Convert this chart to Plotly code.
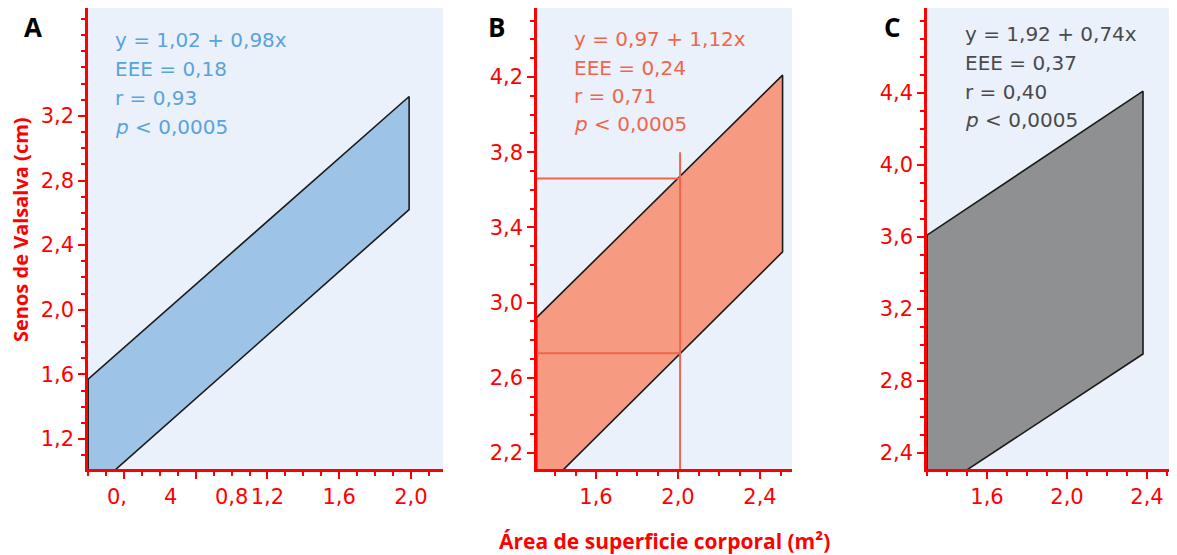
import plotly.graph_objects as go

W, H = 1177, 555
OFF = 8  # page body margin
FONT = "DejaVu Sans"
TFONT = "Open Sans"
RED = "#ff0000"

# ---- data ----
# Panel A
A_band_x = [0.2, 1.99]
A_band_upper = [1.57, 3.32]
A_band_lower = [0.86, 2.62]
A_stats = ["y = 1,02 + 0,98x", "EEE = 0,18", "r = 0,93", "<i>p</i> < 0,0005"]
A_yticks = [1.2, 1.6, 2.0, 2.4, 2.8, 3.2]
A_ytext = ["1,2", "1,6", "2,0", "2,4", "2,8", "3,2"]
A_xticks = [0.4, 0.8, 1.2, 1.6, 2.0]
A_xtext = ["", "", "1,2", "1,6", "2,0"]
A_xfrag_text = ["0,", "4", "0,8"]
A_xfrag_pos = [0.36, 0.658, 1.0]

# Panel B
B_band_x = [1.31, 2.51]
B_band_upper = [2.92, 4.21]
B_band_lower = [1.97, 3.27]
B_stats = ["y = 0,97 + 1,12x", "EEE = 0,24", "r = 0,71", "<i>p</i> < 0,0005"]
B_cross_x = 2.01
B_cross_y = [2.73, 3.66]
B_cross_top = 3.8
B_yticks = [2.2, 2.6, 3.0, 3.4, 3.8, 4.2]
B_ytext = ["2,2", "2,6", "3,0", "3,4", "3,8", "4,2"]
B_xticks = [1.6, 2.0, 2.4]
B_xtext = ["1,6", "2,0", "2,4"]

# Panel C
C_band_x = [1.3, 2.38]
C_band_upper = [3.61, 4.41]
C_band_lower = [2.16, 2.95]
C_stats = ["y = 1,92 + 0,74x", "EEE = 0,37", "r = 0,40", "<i>p</i> < 0,0005"]
C_yticks = [2.4, 2.8, 3.2, 3.6, 4.0, 4.4]
C_ytext = ["2,4", "2,8", "3,2", "3,6", "4,0", "4,4"]
C_xticks = [1.6, 2.0, 2.4]
C_xtext = ["1,6", "2,0", "2,4"]

panel_letters = ["A", "B", "C"]
y_title = "Senos de Valsalva (cm)"
x_title = "Área de superficie corporal (m²)"

# ---- layout helpers (target pixel -> paper fraction) ----
def px(x):
    return (x - OFF) / W

def py(y):
    return 1 - (y - OFF) / H

y_dom = [py(469), py(8)]
panels = [
    dict(dom=[px(88), px(443)], xr=[0.1993, 2.179], yr=[1.014, 3.868],
         bx=A_band_x, bu=A_band_upper, bl=A_band_lower, fill="#9dc3e6",
         stats=A_stats, scol="#5aa3dc", sx=113, sy=[40.5, 69.5, 98, 126.5],
         yt=A_yticks, ytt=A_ytext, xt=A_xticks, xtt=A_xtext, lx=33),
    dict(dom=[px(537), px(792)], xr=[1.312, 2.556], yr=[2.115, 4.567],
         bx=B_band_x, bu=B_band_upper, bl=B_band_lower, fill="#f69b81",
         stats=B_stats, scol="#f0654b", sx=572, sy=[39.5, 67.5, 96, 124.5],
         yt=B_yticks, ytt=B_ytext, xt=B_xticks, xtt=B_xtext, lx=497),
    dict(dom=[px(927), min(1.0, px(1185))], xr=[1.3, 2.59], yr=[2.311, 4.872],
         bx=C_band_x, bu=C_band_upper, bl=C_band_lower, fill="#8f9091",
         stats=C_stats, scol="#4a4a4a", sx=963, sy=[34, 63, 91.5, 120],
         yt=C_yticks, ytt=C_ytext, xt=C_xticks, xtt=C_xtext, lx=892),
]

fig = go.Figure()
layout = dict(
    width=W, height=H, margin=dict(l=0, r=0, t=0, b=0),
    paper_bgcolor="white", plot_bgcolor="#eaf1fa", showlegend=False,
    font=dict(family=FONT, color=RED),
)
annotations = []
tickfont = dict(family=FONT, size=21, color=RED)

for i, p in enumerate(panels):
    n = "" if i == 0 else str(i + 1)
    xa, ya = "x" + n, "y" + n
    bx, bu, bl = p["bx"], p["bu"], p["bl"]
    fig.add_trace(go.Scatter(
        x=[bx[0], bx[1], bx[1], bx[0], bx[0]],
        y=[bl[0], bl[1], bu[1], bu[0], bl[0]],
        mode="lines", fill="toself", fillcolor=p["fill"],
        line=dict(color="#1a1a1a", width=1.6), xaxis=xa, yaxis=ya,
        hoverinfo="skip"))
    axcommon = dict(showline=True, linecolor=RED, linewidth=2.5, showgrid=False,
                    zeroline=False, ticks="outside", ticklen=7, tickwidth=2,
                    tickcolor=RED, tickfont=tickfont,
                    minor=dict(dtick=0.1, tick0=0, ticks="outside", ticklen=4,
                               tickwidth=2, tickcolor=RED, showgrid=False))
    layout["xaxis" + n] = dict(axcommon, domain=p["dom"], range=p["xr"],
                               anchor=ya, tickmode="array",
                               tickvals=p["xt"], ticktext=p["xtt"])
    layout["yaxis" + n] = dict(axcommon, domain=y_dom, range=p["yr"],
                               anchor=xa, tickmode="array",
                               tickvals=p["yt"], ticktext=p["ytt"])
    for line, yy in zip(p["stats"], p["sy"]):
        annotations.append(dict(
            xref="paper", yref="paper", x=px(p["sx"]), y=py(yy),
            xanchor="left", yanchor="middle", text=line, showarrow=False,
            font=dict(family=FONT, size=20, color=p["scol"])))
    annotations.append(dict(
        xref="paper", yref="paper", x=px(p["lx"]), y=py(8),
        xanchor="center", yanchor="top", text="<b>%s</b>" % panel_letters[i],
        showarrow=False, borderpad=0,
        font=dict(family=TFONT, size=26, color="black")))

# Panel B crosshair guide lines
gcol = "#f0654b"
fig.add_trace(go.Scatter(x=[B_cross_x, B_cross_x], y=[1.5, B_cross_top],
                         mode="lines", line=dict(color=gcol, width=2),
                         xaxis="x2", yaxis="y2", hoverinfo="skip"))
for yv in B_cross_y:
    fig.add_trace(go.Scatter(x=[1.0, B_cross_x], y=[yv, yv],
                             mode="lines", line=dict(color=gcol, width=2),
                             xaxis="x2", yaxis="y2", hoverinfo="skip"))

# Panel A malformed x tick label fragments
for t, xv in zip(A_xfrag_text, A_xfrag_pos):
    annotations.append(dict(
        xref="x", yref="paper", x=xv, y=py(497), xanchor="center",
        yanchor="middle", text=t, showarrow=False, font=tickfont))

# axis titles
annotations.append(dict(
    xref="paper", yref="paper", x=px(20), y=py(230), textangle=-90,
    xanchor="center", yanchor="middle", text="<b>%s</b>" % y_title,
    showarrow=False, font=dict(family=TFONT, size=20, color=RED)))
annotations.append(dict(
    xref="paper", yref="paper", x=px(664), y=py(541),
    xanchor="center", yanchor="middle", text="<b>%s</b>" % x_title,
    showarrow=False, font=dict(family=TFONT, size=21, color=RED)))

layout["annotations"] = annotations
fig.update_layout(**layout)
fig.write_html("out.html")
